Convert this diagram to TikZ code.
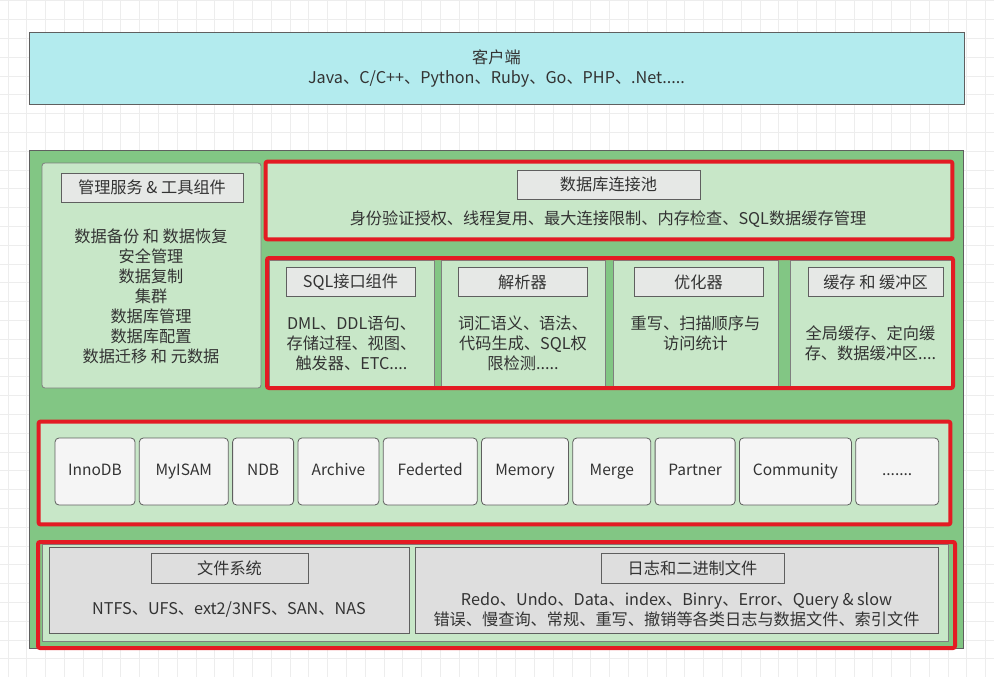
\documentclass[tikz,border=0pt]{standalone}
\usepackage{fontspec}
\setmainfont{Noto Sans CJK SC}
\usetikzlibrary{positioning}

\definecolor{clientcyan}{HTML}{B3EBEE}
\definecolor{layergreen}{HTML}{82C684}
\definecolor{panelgreen}{HTML}{C8E7C8}
\definecolor{titlegray}{HTML}{E6E8E6}
\definecolor{filegray}{HTML}{DEDEDE}
\definecolor{enginewhite}{HTML}{F5F5F5}
\definecolor{framered}{HTML}{E31B23}
\definecolor{linegray}{HTML}{5F5F5F}
\definecolor{textgray}{HTML}{333333}
\definecolor{gridgray}{HTML}{EDEDED}

\begin{document}
\begin{tikzpicture}[x=1pt, y=-1pt, node distance=3.5pt, text=textgray,
        font=\fontsize{16.2}{20}\selectfont,
        gridline/.style={draw=gridgray, line width=0.8pt},
        clientbox/.style={draw=linegray, fill=clientcyan, line width=1pt, align=center},
        layer/.style={draw=linegray, fill=layergreen, line width=1pt},
        panel/.style={draw=linegray!80, fill=panelgreen, line width=0.8pt, align=center},
        redframe/.style={draw=framered, line width=4pt, rounded corners=2pt},
        titlebox/.style={draw=linegray, fill=titlegray, line width=0.8pt, minimum height=29pt, inner sep=0pt},
        engine/.style={draw=linegray, fill=enginewhite, line width=0.8pt, rounded corners=4pt, minimum height=67pt,
          inner sep=0pt, text height=0.75em, text depth=0pt, font=\fontsize{15.5}{18}\selectfont},
        filebox/.style={draw=linegray, fill=filegray, line width=0.8pt, minimum height=86pt}]
      \useasboundingbox (0,0) rectangle (994,677);
      % background grid
      \foreach \i in {0,...,52} \draw[gridline] (8+\i*18.8,0) -- (8+\i*18.8,677);
      \foreach \j in {0,...,35} \draw[gridline] (0,0.8+\j*18.8) -- (994,0.8+\j*18.8);

      % client
      \node[clientbox, minimum width=935pt, minimum height=72pt] (client) at (496.5,69)
        {客户端\\Java、C/C++、Python、Ruby、Go、PHP、.Net.....};

      % server layer
      \node[layer, minimum width=934pt, minimum height=498pt] (server) at (496,399) {};

      % management tools
      \node[panel, rounded corners=3pt, minimum width=219pt, minimum height=225pt] (mgmt) at (151.5,275.5) {};
      \node[titlebox, minimum width=182pt] (mgmttitle) at (152,187.5) {管理服务 \& 工具组件};
      \node[align=center] (mgmttext) at (151,296)
        {数据备份 和 数据恢复\\安全管理\\数据复制\\集群\\数据库管理\\数据库配置\\数据迁移 和 元数据};

      % connection pool
      \node[panel, minimum width=686pt, minimum height=77pt] (pool) at (609,200.5) {};
      \node[titlebox, minimum width=183pt] (pooltitle) at (608.5,184.5) {数据库连接池};
      \node (pooltext) at (608,219) {身份验证授权、线程复用、最大连接限制、内存检查、SQL数据缓存管理};
      \draw[redframe] (pool.north west) rectangle (pool.south east);

      % sql layer
      \node[panel, minimum width=165pt, minimum height=126pt] (sqlif) at (351.5,323) {};
      \node[panel, minimum width=164pt, minimum height=126pt] (parser) at (523,323) {};
      \node[panel, minimum width=165pt, minimum height=126pt] (optim) at (695.5,323) {};
      \node[panel, minimum width=161pt, minimum height=126pt] (cache) at (870.5,323) {};
      \node[titlebox, minimum width=129pt] (sqliftitle) at (350.5,282) {SQL接口组件};
      \node[titlebox, minimum width=129pt] (parsertitle) at (522.5,282) {解析器};
      \node[titlebox, minimum width=129pt] (optimtitle) at (698.5,282) {优化器};
      \node[titlebox, minimum width=135pt] (cachetitle) at (875.5,282) {缓存 和 缓冲区};
      \node[align=center] (sqliftext) at (351.5,343) {DML、DDL语句、\\存储过程、视图、\\触发器、ETC....};
      \node[align=center] (parsertext) at (523,343) {词汇语义、语法、\\代码生成、SQL权\\限检测.....};
      \node[align=center] (optimtext) at (695.5,333) {重写、扫描顺序与\\访问统计};
      \node[align=center] (cachetext) at (870.5,343) {全局缓存、定向缓\\存、数据缓冲区....};
      \draw[redframe] (267,258) rectangle (953,388);

      % storage engines
      \node[panel, minimum width=911pt, minimum height=102pt] (engines) at (494.5,473) {};
      \node[engine, minimum width=80pt] (innodb) at (95,471.5) {InnoDB};
      \node[engine, minimum width=89pt, right=of innodb] (myisam) {MyISAM};
      \node[engine, minimum width=61pt, right=of myisam] (ndb) {NDB};
      \node[engine, minimum width=81pt, right=of ndb] (archive) {Archive};
      \node[engine, minimum width=94pt, right=of archive] (federted) {Federted};
      \node[engine, minimum width=87pt, right=of federted] (memory) {Memory};
      \node[engine, minimum width=78pt, right=of memory] (merge) {Merge};
      \node[engine, minimum width=80pt, right=of merge] (partner) {Partner};
      \node[engine, minimum width=112pt, right=of partner] (community) {Community};
      \node[engine, minimum width=83pt, right=of community] (more) {.......};
      \draw[redframe] (engines.north west) rectangle (engines.south east);

      % files
      \node[panel, minimum width=906pt, minimum height=97pt] (storage) at (495,592.5) {};
      \node[filebox, minimum width=360pt] (fs) at (229,590) {};
      \node[filebox, minimum width=523pt] (logs) at (676.5,590) {};
      \node[titlebox, fill=filegray, minimum width=157pt, minimum height=30pt] (fstitle) at (229.5,568) {文件系统};
      \node[titlebox, fill=filegray, minimum width=183pt, minimum height=30pt] (logstitle) at (692.5,568) {日志和二进制文件};
      \node (fstext) at (229,610) {NTFS、UFS、ext2/3NFS、SAN、NAS};
      \node[align=center] (logstext) at (676.5,609.5)
        {Redo、Undo、Data、index、Binry、Error、Query \& slow\\错误、慢查询、常规、重写、撤销等各类日志与数据文件、索引文件};
      \draw[redframe] (38,542) rectangle (955,648);
    \end{tikzpicture}
\end{document}
